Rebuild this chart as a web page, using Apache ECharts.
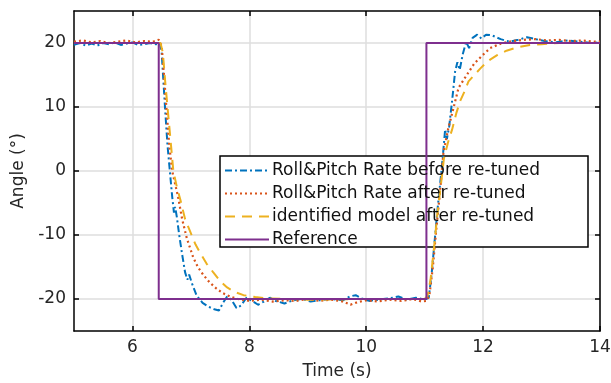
<!DOCTYPE html>
<html>
<head>
<meta charset="utf-8">
<script src="https://cdn.jsdelivr.net/npm/echarts@6/dist/echarts.min.js"></script>
<style>
  html, body { margin: 0; padding: 0; background: #fff; }
  #chart { width: 611px; height: 383px; }
</style>
</head>
<body>
<div id="chart"></div>
<script>
// time (s), angle (deg)
const beforeTuned = [
  [5.0, 19.7], [5.1, 20.0], [5.2, 19.6], [5.3, 19.9], [5.4, 19.6], [5.5, 20.0], [5.6, 19.8],
  [5.7, 20.1], [5.8, 19.7], [5.9, 19.9], [6.0, 20.1], [6.1, 19.7], [6.2, 19.8], [6.3, 20.0],
  [6.4, 19.8], [6.47, 20.0], [6.5, 18.5], [6.53, 14], [6.56, 9.5], [6.6, 4], [6.64, 0],
  [6.68, -4], [6.71, -6.5], [6.73, -5.6], [6.76, -7.2], [6.8, -10], [6.85, -13], [6.9, -15.8],
  [6.94, -17], [6.97, -16.2], [7.02, -17.6], [7.1, -19.5], [7.2, -20.6], [7.3, -21.2],
  [7.4, -21.6], [7.48, -21.8], [7.55, -20.6], [7.62, -19.6], [7.7, -20.2], [7.78, -21.4],
  [7.86, -21.0], [7.95, -19.8], [8.05, -20.3], [8.15, -20.9], [8.25, -20.4], [8.35, -19.8],
  [8.45, -20.3], [8.6, -20.7], [8.75, -20.2], [8.9, -20.0], [9.05, -20.4], [9.2, -20.2],
  [9.4, -20.0], [9.6, -20.2], [9.72, -19.6], [9.82, -19.4], [9.92, -19.9], [10.05, -20.3],
  [10.2, -20.1], [10.4, -19.9], [10.55, -19.6], [10.7, -20.1], [10.85, -19.8], [11.0, -20.1],
  [11.07, -19.8], [11.12, -16], [11.17, -11], [11.22, -6], [11.27, -1.5], [11.31, 2.2],
  [11.35, 6.5], [11.38, 5.0], [11.42, 7.0], [11.47, 11.0], [11.52, 15.5], [11.56, 17.0],
  [11.6, 15.8], [11.65, 18.2], [11.71, 20.2], [11.76, 19.2], [11.82, 20.8], [11.9, 21.3],
  [11.97, 20.7], [12.05, 21.3], [12.15, 21.2], [12.3, 20.6], [12.45, 20.2], [12.6, 20.5],
  [12.75, 20.9], [12.9, 20.6], [13.05, 20.3], [13.25, 20.1], [13.45, 20.4], [13.65, 20.2],
  [13.85, 20.0], [14.0, 20.1]
];

const afterTuned = [
  [5.0, 20.2], [5.15, 20.4], [5.3, 20.1], [5.45, 20.3], [5.6, 20.0], [5.75, 20.2], [5.9, 20.4],
  [6.05, 20.1], [6.2, 20.3], [6.35, 20.2], [6.45, 20.5], [6.5, 19.5], [6.54, 15], [6.58, 10],
  [6.63, 4], [6.68, 0], [6.73, -2], [6.78, -4], [6.85, -7.5], [6.93, -10.5], [7.04, -13.5],
  [7.12, -15.0], [7.21, -16.2], [7.32, -17.4], [7.44, -18.4], [7.55, -19.1], [7.67, -19.6],
  [7.8, -20.0], [8.0, -20.3], [8.2, -20.1], [8.4, -20.4], [8.6, -20.2], [8.8, -20.3],
  [9.0, -20.0], [9.2, -20.3], [9.4, -20.1], [9.6, -20.4], [9.73, -20.9], [9.85, -20.5],
  [10.0, -20.2], [10.2, -20.4], [10.4, -20.1], [10.6, -20.3], [10.8, -20.0], [10.95, -20.4],
  [11.03, -20.3], [11.08, -19.5], [11.14, -15], [11.2, -9], [11.26, -3.5], [11.32, 2.8],
  [11.4, 6.5], [11.47, 9.0], [11.58, 13.0], [11.72, 15.0], [11.85, 16.8], [11.98, 18.0],
  [12.12, 19.2], [12.3, 19.9], [12.5, 20.3], [12.7, 20.5], [12.9, 20.6], [13.1, 20.4],
  [13.3, 20.5], [13.5, 20.3], [13.7, 20.4], [13.9, 20.2], [14.0, 20.2]
];

const identifiedModel = [
  [5.0, 20.0], [6.48, 20.0], [6.52, 18.5], [6.56, 14], [6.6, 10], [6.65, 5], [6.7, 0],
  [6.76, -2.5], [6.82, -4.5], [6.9, -7.5], [6.99, -9.5], [7.08, -11.5], [7.16, -12.8],
  [7.27, -14.5], [7.38, -15.8], [7.5, -17.2], [7.62, -18.2], [7.75, -18.9], [7.9, -19.4],
  [8.1, -19.7], [8.3, -19.9], [8.6, -20.0], [9.0, -20.1], [10.0, -20.0], [11.0, -20.0],
  [11.05, -19.5], [11.1, -17], [11.16, -12], [11.22, -6.5], [11.28, -2], [11.33, 2],
  [11.4, 4.5], [11.47, 6.5], [11.54, 9], [11.61, 11], [11.68, 12.4], [11.75, 14.0],
  [11.85, 15.0], [11.95, 16.0], [12.05, 16.9], [12.12, 17.4], [12.24, 18.1], [12.4, 18.8],
  [12.58, 19.3], [12.8, 19.7], [13.0, 19.8], [13.3, 20.0], [14.0, 20.0]
];

const reference = [
  [5.0, 20], [6.45, 20], [6.45, -20], [11.03, -20], [11.03, 20], [14.0, 20]
];

const xTicks = [6, 8, 10, 12, 14];
const yTicks = [-20, -10, 0, 10, 20];
const legendNames = [
  'Roll&Pitch Rate before re-tuned',
  'Roll&Pitch Rate after re-tuned',
  'identified model after re-tuned',
  'Reference'
];

const FONT = 'DejaVu Sans';
const TEXT = '#262626';

const chart = echarts.init(document.getElementById('chart'));

const axisLine = { show: true, onZero: false, lineStyle: { color: '#000', width: 1.5 } };
const innerTicks = (values) => ({
  show: true, inside: true, length: 5, customValues: values,
  lineStyle: { color: '#000', width: 1.5 }
});
const noMarker = { color: 'rgba(0,0,0,0)' };

const option = {
  animation: false,
  textStyle: { fontFamily: FONT },
  grid: { left: 74, right: 11, top: 11, bottom: 52, outerBoundsMode: 'none' },
  xAxis: [
    {
      type: 'value', min: 5, max: 14, position: 'bottom',
      name: 'Time (s)', nameLocation: 'middle', nameGap: 32,
      nameTextStyle: { fontSize: 17, color: TEXT, fontFamily: FONT },
      axisLine: axisLine,
      axisTick: innerTicks(xTicks),
      axisLabel: { customValues: xTicks, fontSize: 17, color: TEXT, margin: 8, fontFamily: FONT },
      splitLine: { show: true, lineStyle: { color: '#dedede', width: 1.5 } }
    },
    {
      type: 'value', min: 5, max: 14, position: 'top',
      axisLine: axisLine,
      axisTick: innerTicks(xTicks),
      axisLabel: { show: false },
      splitLine: { show: false }
    }
  ],
  yAxis: [
    {
      type: 'value', min: -25, max: 25, position: 'left',
      name: 'Angle (°)', nameLocation: 'middle', nameGap: 47, nameRotate: 90,
      nameTextStyle: { fontSize: 17, color: TEXT, fontFamily: FONT },
      axisLine: axisLine,
      axisTick: innerTicks(yTicks),
      axisLabel: { customValues: yTicks, fontSize: 17, color: TEXT, margin: 8, fontFamily: FONT },
      splitLine: { show: true, lineStyle: { color: '#dedede', width: 1.5 } }
    },
    {
      type: 'value', min: -25, max: 25, position: 'right',
      axisLine: axisLine,
      axisTick: innerTicks(yTicks),
      axisLabel: { show: false },
      splitLine: { show: false }
    }
  ],
  // legend frame drawn as a fixed box, the legend itself sits inside it
  graphic: [{
    type: 'rect', z: 3,
    shape: { x: 220, y: 156, width: 368, height: 91 },
    style: { fill: '#fff', stroke: '#000', lineWidth: 1.5 }
  }],
  legend: {
    orient: 'vertical',
    left: 220, top: 156,
    padding: [6, 6, 6, 4],
    itemWidth: 44, itemHeight: 14, itemGap: 6,
    z: 5,
    textStyle: {
      fontSize: 17, lineHeight: 16, color: '#111', fontFamily: FONT,
      padding: [0, 0, 0, -2]
    },
    data: legendNames
  },
  series: [
    {
      name: legendNames[0], type: 'line', data: beforeTuned,
      showSymbol: false, symbol: 'none',
      lineStyle: { color: '#0072BD', width: 2, type: [7, 3, 2, 3] },
      itemStyle: noMarker
    },
    {
      name: legendNames[1], type: 'line', data: afterTuned,
      showSymbol: false, symbol: 'none',
      lineStyle: { color: '#D95319', width: 2.2, type: [2, 3] },
      itemStyle: noMarker
    },
    {
      name: legendNames[2], type: 'line', data: identifiedModel,
      showSymbol: false, symbol: 'none',
      lineStyle: { color: '#EDB120', width: 2, type: [10, 7] },
      itemStyle: noMarker
    },
    {
      name: legendNames[3], type: 'line', data: reference,
      showSymbol: false, symbol: 'none',
      lineStyle: { color: '#7E2F8E', width: 2 },
      itemStyle: noMarker
    }
  ]
};

chart.setOption(option);
</script>
</body>
</html>
